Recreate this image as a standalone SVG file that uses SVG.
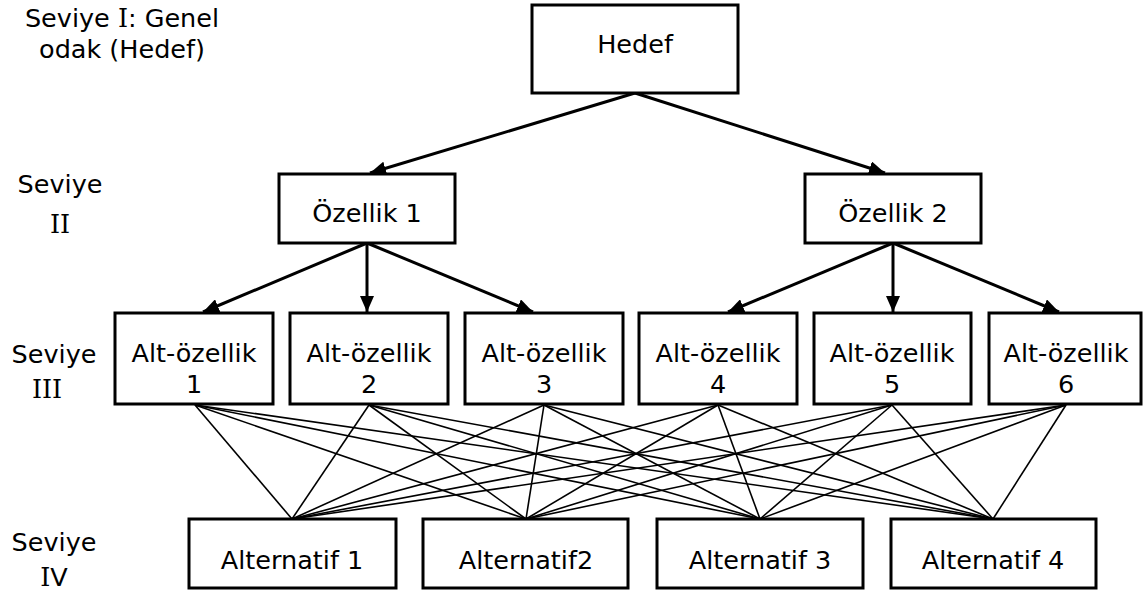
<svg xmlns="http://www.w3.org/2000/svg" width="1144" height="592" viewBox="0 0 1144 592">
<style>
.box{fill:#fff;stroke:#000;stroke-width:3}
.t{font-family:"DejaVu Sans","Verdana",sans-serif;font-size:25.5px;fill:#000;text-anchor:middle}
.r{font-family:"DejaVu Serif",serif}
.arr{stroke:#000;stroke-width:3;fill:none;marker-end:url(#ah)}
.ln{stroke:#000;stroke-width:1.6;fill:none}
</style>
<defs>
<marker id="ah" markerUnits="userSpaceOnUse" markerWidth="16" markerHeight="14" refX="16" refY="7" orient="auto">
<path d="M0,0 L16,7 L0,14 z" fill="#000"/>
</marker>
</defs>
<rect width="1144" height="592" fill="#fff"/>
<g id="labels">
<text class="t" x="122" y="27">Seviye <tspan class="r">I</tspan>: Genel</text>
<text class="t" x="122" y="58">odak (Hedef)</text>
<text class="t" x="60" y="193">Seviye</text>
<text class="t r" x="60" y="233">II</text>
<text class="t" x="54" y="363">Seviye</text>
<text class="t r" x="47" y="398">III</text>
<text class="t" x="54" y="551">Seviye</text>
<text class="t" x="54" y="586"><tspan class="r">I</tspan>V</text>
</g>
<g id="connectors">
<line class="arr" x1="635" y1="93" x2="370" y2="173"/>
<line class="arr" x1="635" y1="93" x2="885" y2="173"/>
<line class="arr" x1="367" y1="243" x2="203" y2="312"/>
<line class="arr" x1="367" y1="243" x2="367" y2="312"/>
<line class="arr" x1="367" y1="243" x2="533" y2="312"/>
<line class="arr" x1="893" y1="243" x2="728" y2="312"/>
<line class="arr" x1="893" y1="243" x2="893" y2="312"/>
<line class="arr" x1="893" y1="243" x2="1059" y2="312"/>
<line class="ln" x1="195" y1="405" x2="292" y2="519"/>
<line class="ln" x1="195" y1="405" x2="526" y2="519"/>
<line class="ln" x1="195" y1="405" x2="760" y2="519"/>
<line class="ln" x1="195" y1="405" x2="993" y2="519"/>
<line class="ln" x1="369" y1="405" x2="292" y2="519"/>
<line class="ln" x1="369" y1="405" x2="526" y2="519"/>
<line class="ln" x1="369" y1="405" x2="760" y2="519"/>
<line class="ln" x1="369" y1="405" x2="993" y2="519"/>
<line class="ln" x1="544" y1="405" x2="292" y2="519"/>
<line class="ln" x1="544" y1="405" x2="526" y2="519"/>
<line class="ln" x1="544" y1="405" x2="760" y2="519"/>
<line class="ln" x1="544" y1="405" x2="993" y2="519"/>
<line class="ln" x1="718" y1="405" x2="292" y2="519"/>
<line class="ln" x1="718" y1="405" x2="526" y2="519"/>
<line class="ln" x1="718" y1="405" x2="760" y2="519"/>
<line class="ln" x1="718" y1="405" x2="993" y2="519"/>
<line class="ln" x1="892" y1="405" x2="292" y2="519"/>
<line class="ln" x1="892" y1="405" x2="526" y2="519"/>
<line class="ln" x1="892" y1="405" x2="760" y2="519"/>
<line class="ln" x1="892" y1="405" x2="993" y2="519"/>
<line class="ln" x1="1066" y1="405" x2="292" y2="519"/>
<line class="ln" x1="1066" y1="405" x2="526" y2="519"/>
<line class="ln" x1="1066" y1="405" x2="760" y2="519"/>
<line class="ln" x1="1066" y1="405" x2="993" y2="519"/>
</g>
<g id="hedef">
<rect class="box" x="532" y="5" width="206" height="88"/>
<text class="t" x="635" y="53">Hedef</text>
</g>
<g id="ozellik1">
<rect class="box" x="279" y="174" width="176" height="69"/>
<text class="t" x="367" y="222">Özellik 1</text>
</g>
<g id="ozellik2">
<rect class="box" x="805" y="174" width="176" height="69"/>
<text class="t" x="893" y="222">Özellik 2</text>
</g>
<g id="alt1">
<rect class="box" x="115" y="313" width="158" height="91"/>
<text class="t" x="194" y="362">Alt-özellik</text>
<text class="t" x="194" y="393">1</text>
</g>
<g id="alt2">
<rect class="box" x="290" y="313" width="158" height="91"/>
<text class="t" x="369" y="362">Alt-özellik</text>
<text class="t" x="369" y="393">2</text>
</g>
<g id="alt3">
<rect class="box" x="465" y="313" width="158" height="91"/>
<text class="t" x="544" y="362">Alt-özellik</text>
<text class="t" x="544" y="393">3</text>
</g>
<g id="alt4">
<rect class="box" x="639" y="313" width="158" height="91"/>
<text class="t" x="718" y="362">Alt-özellik</text>
<text class="t" x="718" y="393">4</text>
</g>
<g id="alt5">
<rect class="box" x="814" y="313" width="157" height="91"/>
<text class="t" x="892" y="362">Alt-özellik</text>
<text class="t" x="892" y="393">5</text>
</g>
<g id="alt6">
<rect class="box" x="989" y="313" width="152" height="91"/>
<text class="t" x="1066" y="362">Alt-özellik</text>
<text class="t" x="1066" y="393">6</text>
</g>
<g id="alternatif1">
<rect class="box" x="189" y="519" width="207" height="69"/>
<text class="t" x="292" y="569">Alternatif 1</text>
</g>
<g id="alternatif2">
<rect class="box" x="423" y="519" width="205" height="69"/>
<text class="t" x="526" y="569">Alternatif2</text>
</g>
<g id="alternatif3">
<rect class="box" x="657" y="519" width="206" height="69"/>
<text class="t" x="760" y="569">Alternatif 3</text>
</g>
<g id="alternatif4">
<rect class="box" x="891" y="519" width="205" height="69"/>
<text class="t" x="993" y="569">Alternatif 4</text>
</g>
</svg>
